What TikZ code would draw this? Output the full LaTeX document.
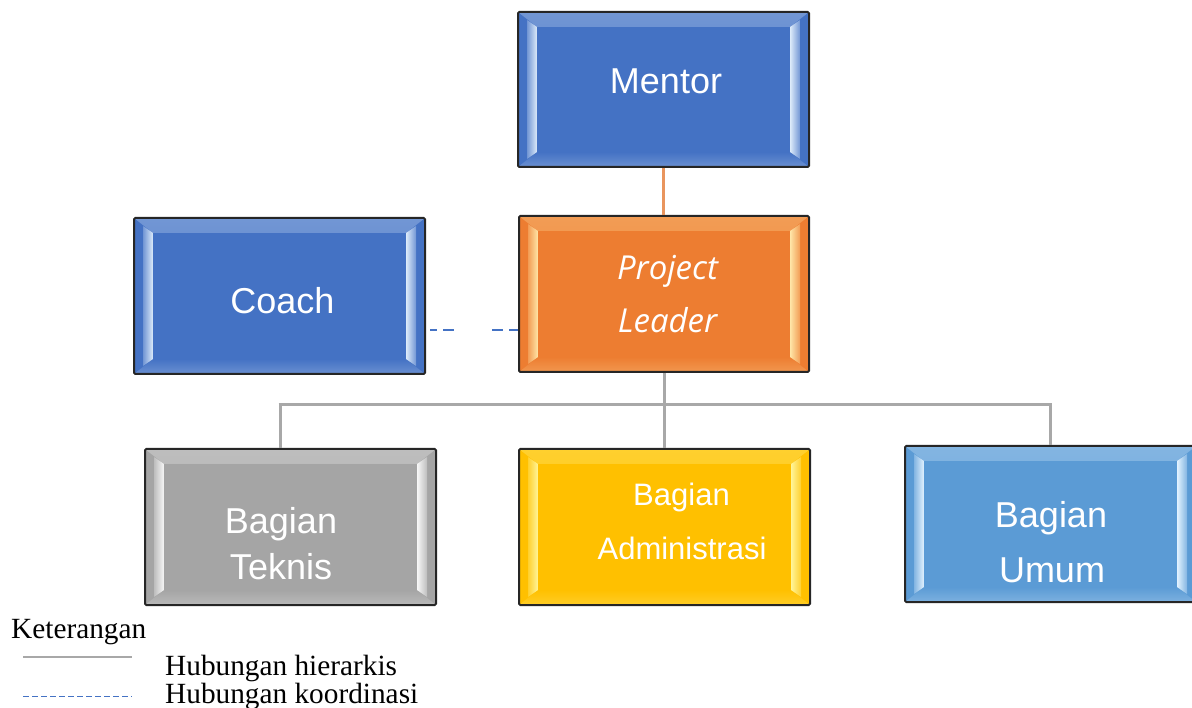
\documentclass[tikz,border=0pt]{standalone}
\usepackage{fontspec}
\setmainfont{Liberation Serif}
\newfontfamily\boxfont{Liberation Sans}
\newfontfamily\leadfont{Open Sans}
\usetikzlibrary{calc}

\definecolor{boxline}{HTML}{262626}
\definecolor{cBlue}{HTML}{4472C4}
\definecolor{cBlueHi}{HTML}{DDEBFA}
\definecolor{cOrange}{HTML}{ED7D31}
\definecolor{cOrangeHi}{HTML}{FFE6A8}
\definecolor{cGray}{HTML}{A5A5A5}
\definecolor{cGrayHi}{HTML}{F7F7F7}
\definecolor{cGold}{HTML}{FFC000}
\definecolor{cGoldHi}{HTML}{FFF59A}
\definecolor{cSky}{HTML}{5B9BD5}
\definecolor{cSkyHi}{HTML}{E2F2FF}
\definecolor{hierline}{HTML}{A8A8A8}
\definecolor{mentorline}{HTML}{E9955E}

\tikzset{
  % bevelled box: base fill #1, highlight colour #2
  orgbox/.style 2 args={
    draw=boxline, line width=2pt, fill=#1, rounded corners=1.2pt,
    minimum width=291pt, minimum height=156pt, inner sep=0pt,
    path picture={
      % top and bottom bevel bands
      \shade[top color=#2!30!#1, bottom color=#1, sharp corners]
        (path picture bounding box.north west) --
        (path picture bounding box.north east) --
        ([shift={(-19pt,-15pt)}]path picture bounding box.north east) --
        ([shift={(19pt,-15pt)}]path picture bounding box.north west) -- cycle;
      \shade[top color=#1, bottom color=#2!25!#1, sharp corners]
        (path picture bounding box.south west) --
        (path picture bounding box.south east) --
        ([shift={(-19pt,15pt)}]path picture bounding box.south east) --
        ([shift={(19pt,15pt)}]path picture bounding box.south west) -- cycle;
      % left and right highlight strips
      \shade[left color=#2!30!#1, right color=#2, sharp corners]
        ([shift={(9pt,-8pt)}]path picture bounding box.north west) --
        ([shift={(19pt,-15pt)}]path picture bounding box.north west) --
        ([shift={(19pt,15pt)}]path picture bounding box.south west) --
        ([shift={(9pt,8pt)}]path picture bounding box.south west) -- cycle;
      \shade[left color=#2, right color=#2!30!#1, sharp corners]
        ([shift={(-19pt,-15pt)}]path picture bounding box.north east) --
        ([shift={(-9pt,-8pt)}]path picture bounding box.north east) --
        ([shift={(-9pt,8pt)}]path picture bounding box.south east) --
        ([shift={(-19pt,15pt)}]path picture bounding box.south east) -- cycle;
      % inner face
      \fill[#1, sharp corners]
        ([shift={(19pt,-15pt)}]path picture bounding box.north west) rectangle
        ([shift={(-19pt,15pt)}]path picture bounding box.south east);
    }},
  boxtext/.style={text=white, anchor=base, inner sep=0pt,
    font=\boxfont\fontsize{36}{36}\selectfont},
  smalltext/.style={boxtext, font=\boxfont\fontsize{31}{31}\selectfont},
  leadtext/.style={boxtext, font=\leadfont\itshape\fontsize{33}{33}\selectfont},
  hier/.style={draw=hierline, line width=3pt},
  mentorlink/.style={draw=mentorline, line width=3pt},
  coordlink/.style={draw=cBlue, line width=2.5pt,
    dash pattern=on 0pt off 4pt on 7pt off 6pt on 11pt off 38pt on 11pt off 6pt on 11pt off 10pt},
  legendtext/.style={anchor=base west, inner sep=0pt,
    font=\fontsize{29.3}{29.3}\selectfont},
}

\begin{document}
\begin{tikzpicture}[x=1pt, y=-1pt]
\useasboundingbox (0,0) rectangle (1192,708);

% boxes
\node[orgbox={cBlue}{cBlueHi}, minimum height=155pt] (mentor) at (663.5,89.5) {};
\node[orgbox={cBlue}{cBlueHi}] (coach) at (279.5,296) {};
\node[orgbox={cOrange}{cOrangeHi}, minimum width=290pt] (pl) at (664,294) {};
\node[orgbox={cGray}{cGrayHi}] (teknis) at (290.5,527) {};
\node[orgbox={cGold}{cGoldHi}] (admin) at (664.5,527) {};
\node[orgbox={cSky}{cSkyHi}] (umum) at (1050.5,524) {};

% box labels
\node[boxtext] (mentorT) at (666,94) {Mentor};
\node[boxtext] (coachT) at (282.5,314) {Coach};
\node[leadtext] (plT1) at (667.5,280) {Project};
\node[leadtext] (plT2) at (667.5,333) {Leader};
\node[boxtext] (tekT1) at (281,533) {Bagian};
\node[boxtext] (tekT2) at (281,579) {Teknis};
\node[smalltext] (admT1) at (681.5,505) {Bagian};
\node[smalltext] (admT2) at (682,559) {Administrasi};
\node[boxtext] (umT1) at (1051,527) {Bagian};
\node[boxtext] (umT2) at (1052,582) {Umum};

% hierarchy lines
\draw[mentorlink] (mentor.south) -- (mentor.south |- pl.north);
\coordinate (busL) at (280,405);
\coordinate (busM) at (664,405);
\coordinate (busR) at (1050,405);
\draw[hier] (pl.south) -- (busM);
\draw[hier] ([xshift=-1.5pt]busL) -- ([xshift=1.5pt]busR);
\draw[hier] (busL) -- (busL |- teknis.north);
\draw[hier] (busM) -- (busM |- admin.north);
\draw[hier] (busR) -- (busR |- umum.north);

% coordination line
\coordinate (dashY) at (0,330);
\draw[coordlink] (coach.east |- dashY) -- (pl.west |- dashY);

% legend
\node[legendtext] (ket) at (11,638) {Keterangan};
\coordinate (lgA1) at (23,657);
\coordinate (lgA2) at (132,657);
\coordinate (lgB1) at (23,696);
\coordinate (lgB2) at (132,696);
\draw[draw=hierline, line width=1.2pt] (lgA1) -- (lgA2);
\draw[draw=cBlue, line width=1pt, dash pattern=on 5.5pt off 3.5pt] (lgB1) -- (lgB2);
\node[legendtext] (lgHier) at (165,675) {Hubungan hierarkis};
\node[legendtext] (lgKoor) at (165,703) {Hubungan koordinasi};
\end{tikzpicture}
\end{document}
